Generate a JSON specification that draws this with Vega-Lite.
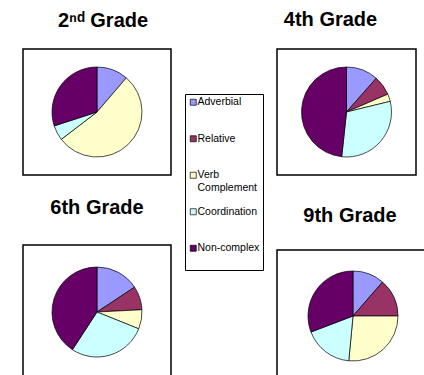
{
  "$schema": "https://vega.github.io/schema/vega-lite/v6.json",
  "padding": {"left": 22, "top": 9, "right": 0, "bottom": 0},
  "background": "white",
  "datasets": {
    "pies": [
      {"grade": "2nd", "type": "Adverbial", "k": 1, "v": 11.3},
      {"grade": "2nd", "type": "Verb Complement", "k": 3, "v": 53.3},
      {"grade": "2nd", "type": "Coordination", "k": 4, "v": 5.4},
      {"grade": "2nd", "type": "Non-complex", "k": 5, "v": 30.0},
      {"grade": "4th", "type": "Adverbial", "k": 1, "v": 11.5},
      {"grade": "4th", "type": "Relative", "k": 2, "v": 7.0},
      {"grade": "4th", "type": "Verb Complement", "k": 3, "v": 2.7},
      {"grade": "4th", "type": "Coordination", "k": 4, "v": 30.5},
      {"grade": "4th", "type": "Non-complex", "k": 5, "v": 48.3},
      {"grade": "6th", "type": "Adverbial", "k": 1, "v": 15.7},
      {"grade": "6th", "type": "Relative", "k": 2, "v": 8.5},
      {"grade": "6th", "type": "Verb Complement", "k": 3, "v": 6.9},
      {"grade": "6th", "type": "Coordination", "k": 4, "v": 28.1},
      {"grade": "6th", "type": "Non-complex", "k": 5, "v": 40.8},
      {"grade": "9th", "type": "Adverbial", "k": 1, "v": 11.4},
      {"grade": "9th", "type": "Relative", "k": 2, "v": 13.6},
      {"grade": "9th", "type": "Verb Complement", "k": 3, "v": 26.5},
      {"grade": "9th", "type": "Coordination", "k": 4, "v": 17.7},
      {"grade": "9th", "type": "Non-complex", "k": 5, "v": 30.8}
    ]
  },
  "data": {"name": "pies"},
  "config": {
    "font": "Liberation Sans",
    "title": {"font": "Liberation Sans", "fontSize": 20, "fontWeight": "bold", "color": "black", "anchor": "middle"},
    "arc": {"outerRadius": 45, "stroke": "black", "strokeWidth": 0.7},
    "legend": {
      "title": null,
      "strokeColor": "black",
      "fillColor": "white",
      "padding": 3,
      "symbolType": "square",
      "symbolSize": 36,
      "symbolStrokeColor": "black",
      "symbolStrokeWidth": 0.7,
      "labelFont": "Liberation Sans",
      "labelFontSize": 10.5,
      "labelColor": "black",
      "labelOffset": -1,
      "labelLimit": 0,
      "rowPadding": 12.5
    }
  },
  "resolve": {"scale": {"color": "shared"}, "legend": {"color": "independent"}},
  "spacing": 12,
  "hconcat": [
    {
      "spacing": 21,
      "vconcat": [
        {
          "title": {"text": "2ⁿᵈ Grade", "offset": 18, "dx": 6},
          "width": 148, "height": 126,
          "view": {"stroke": "black", "strokeWidth": 1.5},
          "transform": [{"filter": "datum.grade == '2nd'"}],
          "mark": {"type": "arc"},
          "encoding": {
            "theta": {"field": "v", "type": "quantitative", "stack": true},
            "order": {"field": "k", "type": "quantitative"},
            "color": {"field": "type", "type": "nominal",
              "scale": {"domain": ["Adverbial", "Relative", "Verb Complement", "Coordination", "Non-complex"], "range": ["#9999FF", "#993366", "#FFFFCC", "#CCFFFF", "#660066"]},
              "legend": null}
          }
        },
        {
          "title": {"text": "6th Grade", "offset": 27},
          "width": 148, "height": 134,
          "view": {"stroke": "black", "strokeWidth": 1.5},
          "transform": [{"filter": "datum.grade == '6th'"}],
          "mark": {"type": "arc"},
          "encoding": {
            "theta": {"field": "v", "type": "quantitative", "stack": true},
            "order": {"field": "k", "type": "quantitative"},
            "color": {"field": "type", "type": "nominal",
              "scale": {"domain": ["Adverbial", "Relative", "Verb Complement", "Coordination", "Non-complex"], "range": ["#9999FF", "#993366", "#FFFFCC", "#CCFFFF", "#660066"]},
              "legend": null}
          }
        }
      ]
    },
    {
      "width": 79, "height": 320,
      "view": {"stroke": null},
      "transform": [{"filter": "datum.grade == '9th'"}],
      "mark": {"type": "arc", "outerRadius": 0, "strokeWidth": 0.7},
      "encoding": {
        "theta": {"field": "v", "type": "quantitative", "stack": true},
        "order": {"field": "k", "type": "quantitative"},
        "color": {"field": "type", "type": "nominal",
          "scale": {"domain": ["Adverbial", "Relative", "Verb Complement", "Coordination", "Non-complex"], "range": ["#9999FF", "#993366", "#FFFFCC", "#CCFFFF", "#660066"]},
          "legend": {"orient": "none", "legendX": 0, "legendY": 45,
            "labelExpr": "datum.label == 'Verb Complement' ? ['Verb', 'Complement'] : [datum.label, '']"}}
      }
    },
    {
      "spacing": 29,
      "vconcat": [
        {
          "title": {"text": "4th Grade", "offset": 19, "dx": -16},
          "width": 139, "height": 126,
          "view": {"stroke": "black", "strokeWidth": 1.5},
          "transform": [{"filter": "datum.grade == '4th'"}],
          "mark": {"type": "arc"},
          "encoding": {
            "theta": {"field": "v", "type": "quantitative", "stack": true},
            "order": {"field": "k", "type": "quantitative"},
            "color": {"field": "type", "type": "nominal",
              "scale": {"domain": ["Adverbial", "Relative", "Verb Complement", "Coordination", "Non-complex"], "range": ["#9999FF", "#993366", "#FFFFCC", "#CCFFFF", "#660066"]},
              "legend": null}
          }
        },
        {
          "title": {"text": "9th Grade", "offset": 24, "dx": -3},
          "width": 152, "height": 132,
          "view": {"stroke": "black", "strokeWidth": 1.5},
          "transform": [{"filter": "datum.grade == '9th'"}],
          "mark": {"type": "arc"},
          "encoding": {
            "theta": {"field": "v", "type": "quantitative", "stack": true},
            "order": {"field": "k", "type": "quantitative"},
            "color": {"field": "type", "type": "nominal",
              "scale": {"domain": ["Adverbial", "Relative", "Verb Complement", "Coordination", "Non-complex"], "range": ["#9999FF", "#993366", "#FFFFCC", "#CCFFFF", "#660066"]},
              "legend": null}
          }
        }
      ]
    }
  ]
}
